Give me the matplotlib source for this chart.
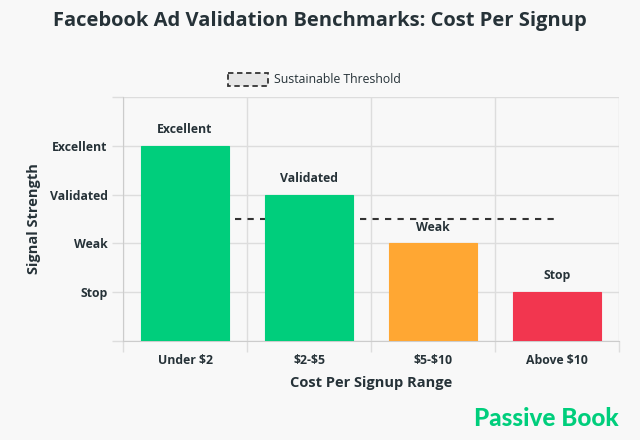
import matplotlib
matplotlib.use("Agg")
import matplotlib.pyplot as plt
from matplotlib.patches import Rectangle

categories = ["Under $2", "$2-$5", "$5-$10", "Above $10"]
signal_values = [4, 3, 2, 1]
bar_labels = ["Excellent", "Validated", "Weak", "Stop"]
bar_colors = ["#00CE7C", "#00CE7C", "#FFA733", "#F2364F"]
threshold_values = [2.5, 2.5, 2.5, 2.5]
y_tick_values = [0, 1, 2, 3, 4, 5]
y_tick_labels = ["", "Stop", "Weak", "Validated", "Excellent", ""]

plt.rcParams['font.family'] = ['Open Sans', 'DejaVu Sans']
txt = "#263238"
grid_c = "#dddddd"
bg = "#f8f8f8"

fig = plt.figure(figsize=(6.4, 4.4), dpi=100, facecolor=bg)
ax = fig.add_axes([123/640, 1-341/440, (619-123)/640, (341-97)/440], facecolor=bg)

x = list(range(len(categories)))
ax.plot(x, threshold_values, color="#333333", linestyle=(0, (3, 3)), linewidth=1.5, zorder=2)
bars = ax.bar(x, signal_values, width=0.71, color=bar_colors, zorder=3,
              edgecolor=[c for c in bar_colors], linewidth=0.8)
for xi, v, lab in zip(x, signal_values, bar_labels):
    ax.text(xi, v + 0.2, lab, ha="center", va="bottom", fontsize=8.8,
            fontweight="bold", color=txt)

ax.set_xlim(-0.5, 3.5)
ax.set_ylim(0, 5)
ax.set_yticks(y_tick_values)
ax.set_yticklabels(y_tick_labels, fontsize=8.8, fontweight="bold", color=txt)
ax.set_xticks(x)
ax.set_xticklabels(categories, fontsize=8.8, fontweight="bold", color=txt, parse_math=False)
ax.set_xticks([-0.5, 0.5, 1.5, 2.5, 3.5], minor=True)
ax.tick_params(axis="x", which="major", length=0, pad=9)
ax.tick_params(axis="x", which="minor", length=8, color=grid_c, width=1)
ax.tick_params(axis="y", which="major", length=8, color=grid_c, width=1, pad=3)
ax.grid(axis="y", which="major", color=grid_c, linewidth=1, zorder=0)
ax.grid(axis="x", which="minor", color=grid_c, linewidth=1, zorder=0)
ax.set_axisbelow(True)
for s in ["top", "right"]:
    ax.spines[s].set_visible(False)
ax.spines["left"].set_color("#cccccc")
ax.spines["bottom"].set_color("#cccccc")

ax.set_xlabel("Cost Per Signup Range", fontsize=10.5, fontweight="bold", color=txt, labelpad=7)
ax.set_ylabel("Signal Strength", fontsize=10.5, fontweight="bold", color=txt, labelpad=6)

fig.text(0.5, 1-21/440, "Facebook Ad Validation Benchmarks: Cost Per Signup",
         ha="center", va="center", fontsize=14.5, fontweight="bold", color=txt)

# legend
leg_ax = fig.add_axes([0, 0, 1, 1], facecolor="none")
leg_ax.set_xlim(0, 640)
leg_ax.set_ylim(440, 0)
leg_ax.axis("off")
leg_ax.add_patch(Rectangle((228, 73), 40, 13, facecolor="#e6e6e6", edgecolor="#333333",
                           linestyle=(0, (3, 2)), linewidth=1.3))
leg_ax.text(274, 79.5, "Sustainable Threshold", ha="left", va="center", fontsize=8.8, color=txt)

fig.text(619/640, 1-418/440, "Passive Book", ha="right", va="center", fontsize=17.5,
         fontweight="black", color="#00CE7C", family=["Lato", "DejaVu Sans"])

fig.savefig("out.png", dpi=100, facecolor=bg)
